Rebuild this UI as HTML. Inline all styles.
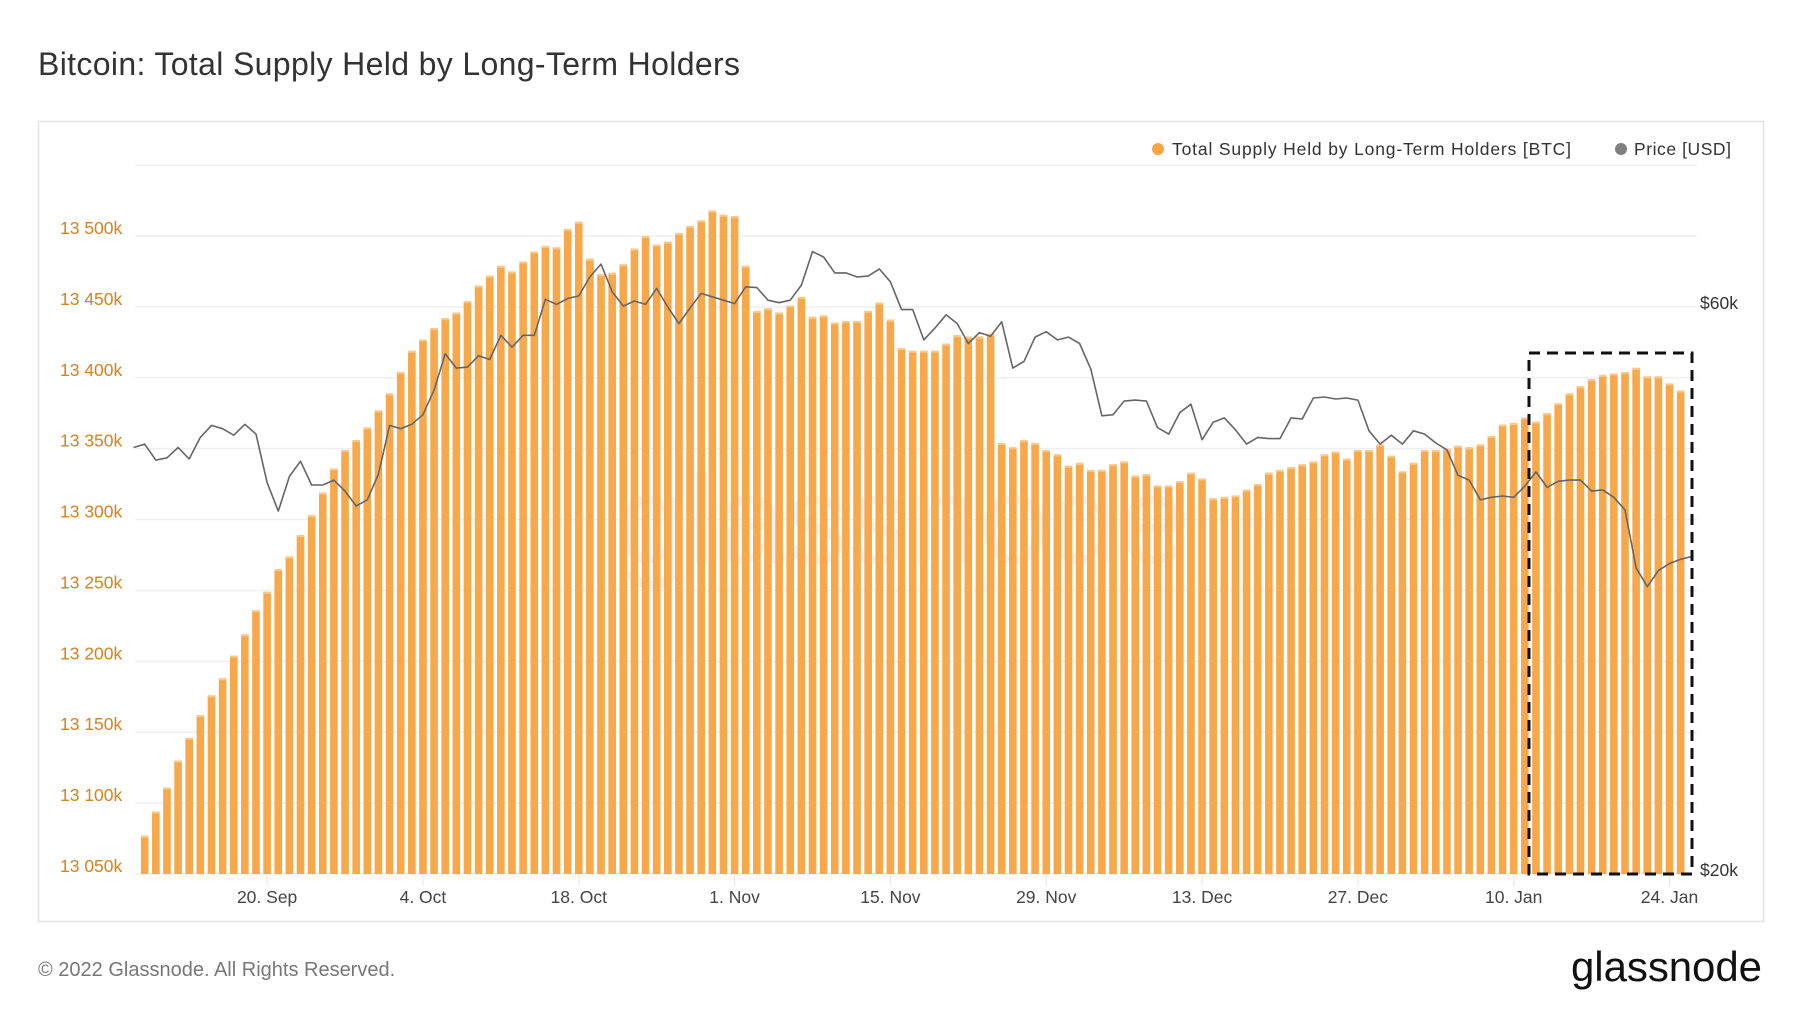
<!DOCTYPE html>
<html><head><meta charset="utf-8"><style>
html,body{margin:0;padding:0;background:#fff;}
body{width:1800px;height:1013px;overflow:hidden;font-family:"Liberation Sans",sans-serif;}
</style></head><body>
<svg id="chart" width="1800" height="1013" viewBox="0 0 1800 1013" xmlns="http://www.w3.org/2000/svg">
<text x="38" y="75" font-size="32" fill="#333" textLength="702">Bitcoin: Total Supply Held by Long-Term Holders</text>
<rect x="38.5" y="121.5" width="1725" height="800" fill="#fff" stroke="#e3e3e3" stroke-width="1.5"/>
<text x="903" y="563" font-size="125" fill="#000" fill-opacity="0.05" text-anchor="middle">glassnode</text>
<g id="grid"></g>
<g id="bars"></g>
<g id="line"></g>
<g id="axes"></g>
<rect x="1529" y="353" width="163" height="521" fill="none" stroke="#111" stroke-width="3" stroke-dasharray="11 7"/>
<g>
<circle cx="1158" cy="149" r="6" fill="#f7a444"/>
<text x="1172" y="155" font-size="17.5" fill="#333" textLength="399">Total Supply Held by Long-Term Holders [BTC]</text>
<circle cx="1621" cy="149" r="6" fill="#808080"/>
<text x="1634" y="155" font-size="17.5" fill="#333" textLength="97">Price [USD]</text>
</g>
<text x="38" y="976" font-size="20" fill="#777">© 2022 Glassnode. All Rights Reserved.</text>
<text x="1571" y="981" font-size="42" fill="#111" textLength="191">glassnode</text>
</svg>
<script>
const supply = [13077,13094,13111,13130,13146,13162,13176,13188,13204,13219,13236,13249,13265,13274,13289,13303,13319,13336,13349,13356,13365,13377,13389,13404,13419,13427,13435,13442,13446,13454,13465,13472,13479,13475,13482,13489,13493,
13492,13505,13510,13484,13473,13474,13480,13491,13500,13494,13496,13502,13507,13511,13518,13515,13514,13479,13447,13449,13446,13451,13457,13443,13444,13439,13440,13440,13447,13453,13441,13421,13419,13419,13419,13424,13430,
13429,13429,13431,13354,13351,13356,13354,13349,13346,13338,13340,13335,13335,13339,13341,13331,13332,13324,13324,13327,13333,13329,13315,13316,13317,13321,13325,13333,13335,13337,13339,13341,13346,13348,13343,13349,13349,
13353,13345,13334,13340,13349,13349,13350,13352,13351,13353,13359,13367,13368,13372,13369,13375,13382,13389,13394,13399,13402,13403,13404,13407,13401,13401,13396,13391];
const price = [45.7,46.0,44.6,44.8,45.7,44.7,46.6,47.7,47.4,46.8,47.8,46.9,42.7,40.4,43.2,44.5,42.5,42.5,42.9,42.0,40.8,41.3,43.4,47.7,47.4,47.8,48.7,51.1,54.8,53.3,53.4,54.6,54.2,56.8,55.5,56.8,56.8,60.9,
60.3,61.0,61.3,63.6,65.2,61.8,60.1,60.7,60.3,62.2,60.0,58.1,59.9,61.6,61.2,60.8,60.4,62.4,62.3,60.8,60.5,60.8,62.6,66.8,66.1,64.1,64.1,63.6,63.7,64.6,63.0,59.7,59.7,56.3,57.6,59.1,58.1,
55.9,57.1,56.7,58.3,53.3,54.0,56.6,57.2,56.3,56.6,55.9,53.2,48.6,48.7,50.0,50.1,50.0,47.5,46.9,48.9,49.7,46.4,48.0,48.4,47.3,46.0,46.6,46.5,46.5,48.4,48.3,50.3,50.4,50.2,50.3,50.1,47.2,
46.0,46.8,46.0,47.2,46.9,46.1,45.5,43.3,42.9,41.3,41.5,41.6,41.5,42.4,43.6,42.3,42.8,42.9,42.9,42.0,42.1,41.5,40.5,36.2,34.9,36.0,36.5,36.8,37.0];
const priceStartDay = -1;
const xTickLabels = ["20. Sep","4. Oct","18. Oct","1. Nov","15. Nov","29. Nov","13. Dec","27. Dec","10. Jan","24. Jan"];
const xTickDays = [11,25,39,53,67,81,95,109,123,137];
const yTicks = [13050,13100,13150,13200,13250,13300,13350,13400,13450,13500,13550];
const yTickLabels = ["13 050k","13 100k","13 150k","13 200k","13 250k","13 300k","13 350k","13 400k","13 450k","13 500k",""];
const priceTicks = [20,60];
const priceTickLabels = ["$20k","$60k"];

const NS="http://www.w3.org/2000/svg";
const PL=135, PR=1697, Y0=874, YTOP=236;
const X0=144.7, DX=11.13;
function xs(d){return X0+d*DX;}
function ys(v){return Y0-(v-13050)*(Y0-YTOP)/450;}
function yp(p){return Y0-Math.log(p/20)/Math.log(3)*(Y0-307);}
function mk(tag,attrs,parent){const e=document.createElementNS(NS,tag);for(const k in attrs)e.setAttribute(k,attrs[k]);parent.appendChild(e);return e;}
const grid=document.getElementById('grid'),bars=document.getElementById('bars'),line=document.getElementById('line'),axes=document.getElementById('axes');
yTicks.forEach((v,i)=>{
  const g=mk('line',{x1:PL,x2:PR,y1:ys(v),y2:ys(v),stroke:'#efefef','stroke-width':1.5},grid);
  
  
  if(yTickLabels[i]){
    const t=mk('text',{x:60,y:ys(v)-2,'font-size':17.5,fill:'#d9811a'},axes);
    t.textContent=yTickLabels[i];
    
    
  }
});
supply.forEach((v,i)=>{
  const x=xs(i);
  const r=mk('rect',{x:x-3.8,y:ys(v),width:7.6,height:Y0-ys(v),fill:'#f7a84a'},bars);
  
  
  const c=mk('rect',{x:x-3.8,y:ys(v),width:7.6,height:2,fill:'#fbc88a'},bars);
  
  
});
const pts=price.map((p,i)=>xs(i+priceStartDay).toFixed(1)+','+yp(p).toFixed(1)).join(' ');
const pl=mk('polyline',{points:pts,fill:'none',stroke:'#666','stroke-width':1.6,'stroke-linejoin':'round'},line);


xTickDays.forEach((d,i)=>{
  const tk=mk('line',{x1:xs(d),x2:xs(d),y1:Y0,y2:Y0+12,stroke:'#e6e6e6','stroke-width':1},axes);
  
  
  const t=mk('text',{x:xs(d),y:903,'font-size':17.5,fill:'#444','text-anchor':'middle'},axes);
  t.textContent=xTickLabels[i];
  
  
});
priceTicks.forEach((p,i)=>{
  const t=mk('text',{x:1700,y:yp(p)+2,'font-size':17.5,fill:'#333'},axes);
  t.textContent=priceTickLabels[i];
  
  
});
</script>
</body></html>
